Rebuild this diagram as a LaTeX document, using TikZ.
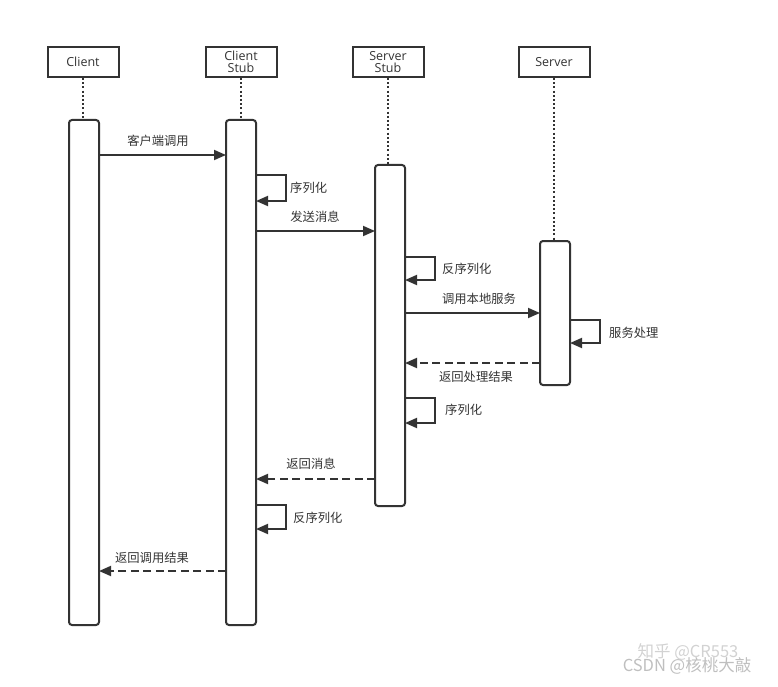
\documentclass[tikz,border=0pt]{standalone}
\usepackage{fontspec}
\setmainfont{Open Sans}
\newfontfamily\cjk{Noto Sans CJK SC}
\usetikzlibrary{arrows.meta}
\definecolor{ink}{HTML}{333333}
\begin{document}
\begin{tikzpicture}[x=1pt,y=-1pt,
  every node/.style={font=\fontsize{12.3}{14}\selectfont\cjk, text=ink},
  head/.style={draw=ink, line width=2pt, minimum width=71pt, minimum height=30pt, inner sep=0pt, align=center, font=\fontsize{12.5}{12.5}\selectfont},
  act/.style={draw=ink, line width=2pt, rounded corners=3pt, fill=white},
  life/.style={draw=ink, line width=2pt, dash pattern=on 2pt off 2.2pt},
  msg/.style={draw=ink, line width=1.8pt, -{Triangle[length=12pt,width=10pt]}},
  ret/.style={msg, dash pattern=on 8pt off 4.5pt},
  lbl/.style={inner sep=1pt}
]
\useasboundingbox (0,0) rectangle (778,687);
% heads
\node[head] (hc) at (83,62) {Client};
\node[head] (hcs) at (241,62) {Client\\Stub};
\node[head] (hss) at (388,62) {Server\\Stub};
\node[head] (hs) at (554,62) {Server};
% activations
\coordinate (ac) at (hc.south |- 0,120);
\coordinate (acs) at (hcs.south |- 0,120);
\coordinate (ass) at (hss.south |- 0,165);
\coordinate (as) at (hs.south |- 0,241);
\draw[life] (hc.south) -- (ac);
\draw[life] (hcs.south) -- (acs);
\draw[life] (hss.south) -- (ass);
\draw[life] (hs.south) -- (as);
\draw[act] (69,120) rectangle (99,625);
\draw[act] (226,120) rectangle (256,625);
\draw[act] (375,165) rectangle (405,506);
\draw[act] (540,241) rectangle (570,385);
% messages
\coordinate (m1a) at (99,155); \coordinate (m1b) at (226,155);
\draw[msg] (m1a) -- (m1b);
\node[lbl] (l1) at (158,141) {客户端调用};
\coordinate (s1a) at (256,175); \coordinate (s1b) at (256,201);
\draw[msg] (s1a) -- (286,175) -- (286,201) -- (s1b);
\node[lbl, anchor=west] (l2) at (289,188) {序列化};
\coordinate (m2a) at (256,231); \coordinate (m2b) at (375,231);
\draw[msg] (m2a) -- (m2b);
\node[lbl] (l3) at (315,217) {发送消息};
\coordinate (s2a) at (405,257); \coordinate (s2b) at (405,280);
\draw[msg] (s2a) -- (435,257) -- (435,280) -- (s2b);
\node[lbl, anchor=west] (l4) at (441,269) {反序列化};
\coordinate (m3a) at (405,313); \coordinate (m3b) at (540,313);
\draw[msg] (m3a) -- (m3b);
\node[lbl] (l5) at (479,299) {调用本地服务};
\coordinate (s3a) at (570,320); \coordinate (s3b) at (570,343);
\draw[msg] (s3a) -- (600,320) -- (600,343) -- (s3b);
\node[lbl, anchor=west] (l6) at (608,333) {服务处理};
\coordinate (r1a) at (540,363); \coordinate (r1b) at (405,363);
\draw[ret] (r1a) -- (r1b);
\node[lbl] (l7) at (476,377) {返回处理结果};
\coordinate (s4a) at (405,398); \coordinate (s4b) at (405,423);
\draw[msg] (s4a) -- (435,398) -- (435,423) -- (s4b);
\node[lbl, anchor=west] (l8) at (444,410) {序列化};
\coordinate (r2a) at (375,479); \coordinate (r2b) at (256,479);
\draw[ret] (r2a) -- (r2b);
\node[lbl] (l9) at (311,464) {返回消息};
\coordinate (s5a) at (256,505); \coordinate (s5b) at (256,529);
\draw[msg] (s5a) -- (286,505) -- (286,529) -- (s5b);
\node[lbl, anchor=west] (l10) at (292,518) {反序列化};
\coordinate (r3a) at (226,571); \coordinate (r3b) at (99,571);
\draw[ret] (r3a) -- (r3b);
\node[lbl] (l11) at (152,558) {返回调用结果};
% watermark
\node[text=gray!35, font=\fontsize{16.5}{17}\selectfont\cjk] (w1) at (688,652) {知乎 @CR553};
\node[text=gray!50, font=\fontsize{16.5}{17}\selectfont\cjk] (w2) at (687,666) {CSDN @核桃大敲};
\end{tikzpicture}
\end{document}
